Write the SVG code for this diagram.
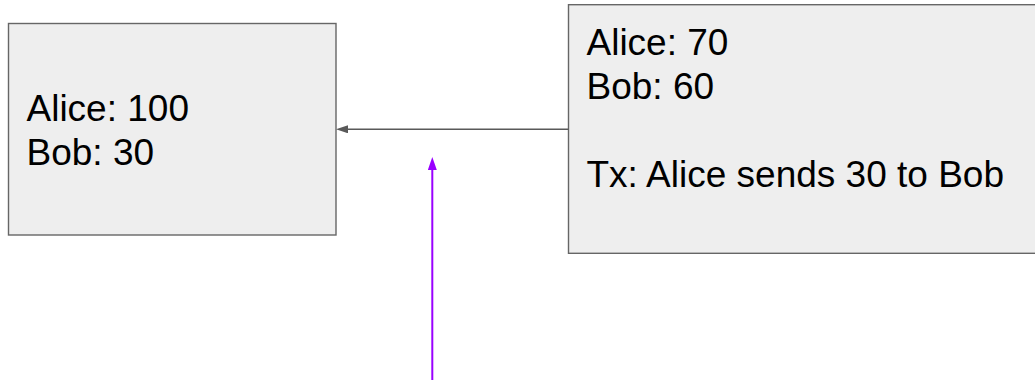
<svg xmlns="http://www.w3.org/2000/svg" width="1035" height="384" viewBox="0 0 1035 384">
  <style>
    .box { fill: #eeeeee; stroke: #666666; stroke-width: 1.4; }
    .label { font-family: "Liberation Sans", Arial, sans-serif; font-size: 37px; fill: #000000; }
    .link { fill: none; stroke: #595959; stroke-width: 1.4; }
    .pointer { fill: none; stroke: #9900ff; stroke-width: 2; }
  </style>
  <defs>
    <marker id="head-gray" viewBox="0 0 12 8" refX="0" refY="4" markerWidth="12" markerHeight="8" markerUnits="userSpaceOnUse" orient="auto">
      <path d="M0,0 L12,4 L0,8 Z" fill="#595959"/>
    </marker>
    <marker id="head-purple" viewBox="0 0 13 9" refX="0" refY="4.5" markerWidth="13" markerHeight="9" markerUnits="userSpaceOnUse" orient="auto">
      <path d="M0,0 L13,4.5 L0,9 Z" fill="#9900ff"/>
    </marker>
  </defs>

  <!-- earlier state -->
  <g id="state-old">
    <rect class="box" x="8.5" y="23.5" width="327.5" height="211.5"/>
    <text class="label" x="26.5" y="120.7">Alice: 100</text>
    <text class="label" x="26.5" y="164.9">Bob: 30</text>
  </g>

  <!-- newer state with its transaction -->
  <g id="state-new">
    <rect class="box" x="568.5" y="4.7" width="480" height="248.6"/>
    <text class="label" x="586.5" y="54.5">Alice: 70</text>
    <text class="label" x="586.5" y="98.7">Bob: 60</text>
    <text class="label" x="586.5" y="187.1">Tx: Alice sends 30 to Bob</text>
  </g>

  <g id="connectors">
    <!-- back-link from new state to old state -->
    <path class="link" d="M568.5,129.3 L348,129.3" marker-end="url(#head-gray)"/>
    <!-- pointer up toward the link -->
    <path class="pointer" d="M432.3,380 L432.3,170" marker-end="url(#head-purple)"/>
  </g>
</svg>
